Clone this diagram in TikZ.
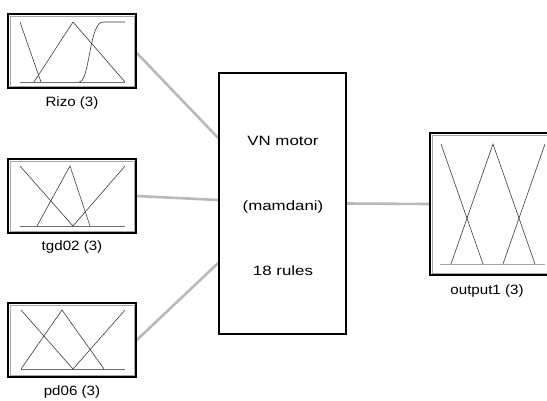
\documentclass[tikz,border=0pt]{standalone}
\usepackage{fontspec}
\setmainfont{Liberation Sans}[FakeStretch=1.12]
\newfontfamily\rulefont{Liberation Sans}[FakeStretch=1.25]
\usetikzlibrary{positioning, calc, backgrounds}
\definecolor{linkgray}{RGB}{185, 185, 185}
\definecolor{mfgray}{RGB}{60, 60, 60}
\definecolor{basegray}{RGB}{110, 110, 110}

\begin{document}
\begin{tikzpicture}[
    x=1pt, y=-1pt,
    mfbox/.style={draw, line width=1.6pt, minimum width=128pt, minimum height=74pt, inner sep=0pt},
    outbox/.style={draw, line width=1.6pt, minimum width=120pt, minimum height=142pt, inner sep=0pt},
    enginebox/.style={draw, line width=1.6pt, minimum width=127pt, minimum height=261pt, inner sep=0pt},
    varname/.style={font=\fontsize{13.5}{15}\selectfont, inner sep=0pt},
    ruletext/.style={font=\rulefont\fontsize{13.5}{15}\selectfont, inner sep=0pt},
    frame/.style={draw=black!35, line width=0.5pt},
    link/.style={line width=2.6pt, linkgray},
    mf/.style={mfgray, line width=0.6pt},
    baseline/.style={basegray, line width=0.7pt}
]
    \clip (0,0) rectangle (547,400);

    % Input variables
    \node[mfbox] (rizo) at (72, 51) {};
    \node[varname] (rizolbl) at (72, 103) {Rizo (3)};

    \node[mfbox] (tgd) at (72, 196) {};
    \node[varname] (tgdlbl) at (72, 247) {tgd02 (3)};

    \node[mfbox] (pd) at (72, 340) {};
    \node[varname] (pdlbl) at (72, 392) {pd06 (3)};

    % Rule engine
    \node[enginebox] (engine) at (282.5, 203.5) {};
    \node[ruletext] (vn) at (283, 141) {VN motor};
    \node[ruletext] (method) at (283, 207) {(mamdani)};
    \node[ruletext] (rules) at (283, 271) {18 rules};

    % Output variable
    \node[outbox] (output) at (490, 204) {};
    \node[varname] (outlbl) at (487, 291) {output1 (3)};

    % Inner frames
    \foreach \n in {rizo, tgd, pd, output}
        \draw[frame] ([shift={(3pt,-3pt)}]\n.north west) rectangle ([shift={(-3pt,3pt)}]\n.south east);

    % Membership functions: Rizo
    \draw[baseline] (20,82) -- (125,82);
    \draw[mf] (20,22) -- (41,82);
    \draw[mf] (34,82) -- (73,22) -- (125,82);
    \draw[mf] (79,82) .. controls (90,82) and (89,22) .. (103,22) -- (125,22);

    % Membership functions: tgd02
    \draw[baseline] (20,226) -- (125,226);
    \draw[mf] (20,166) -- (73,226);
    \draw[mf] (37,226) -- (70,166) -- (90,226);
    \draw[mf] (73,226) -- (125,166);

    % Membership functions: pd06
    \draw[baseline] (21,369) -- (125,369);
    \draw[mf] (21,310) -- (73,369);
    \draw[mf] (21,369) -- (62,310) -- (104,369);
    \draw[mf] (73,369) -- (125,310);

    % Membership functions: output1
    \draw[baseline, black!35] (440,264) -- (545,264);
    \draw[mf] (441,144) -- (483,264);
    \draw[mf] (451,264) -- (493,144) -- (535,264);
    \draw[mf] (503,264) -- (545,144);

    % Connections
    \coordinate (e1) at ([yshift=65.5pt]engine.west);
    \coordinate (e2) at ([yshift=3.5pt]engine.west);
    \coordinate (e3) at ([yshift=-59.5pt]engine.west);
    \begin{scope}[on background layer]
        \draw[link] ([yshift=-2pt]rizo.east) -- (e1);
        \draw[link] (tgd.east) -- (e2);
        \draw[link] (pd.east) -- (e3);
        \draw[link] (engine.east) -- (output.west);
    \end{scope}
\end{tikzpicture}
\end{document}
